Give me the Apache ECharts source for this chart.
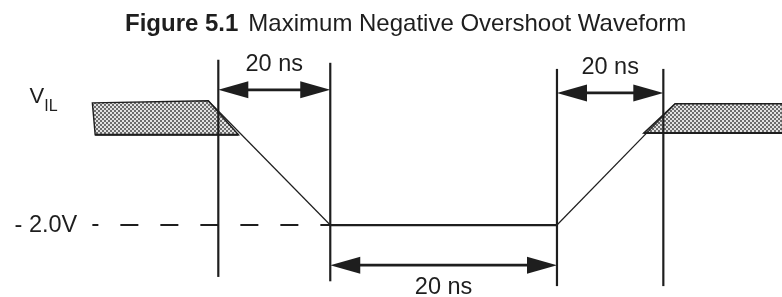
<!DOCTYPE html>
<html>
<head>
<meta charset="utf-8">
<script src="https://cdn.jsdelivr.net/npm/echarts@6/dist/echarts.min.js"></script>
<style>
    html, body { margin: 0; padding: 0; background: #fff; }
    #chart { width: 782px; height: 297px; }
</style>
</head>
<body>
<div id="chart"></div>
<script>
// schematic time (ns) and level (V) of the drawing
var markTimes = [0, 20, 60.5, 79.5];
var markTops = [1.79, 1.72, 1.58, 1.58];
var markBottoms = [-3.19, -3.29, -3.40, -3.40];

var fallT = [-1.8, 20];
var fallV = [0.85, -2.0];
var floorT = [20, 60.5];
var floorV = [-2.0, -2.0];
var riseT = [60.5, 81.6];
var riseV = [-2.0, 0.78];

var leftBandT = [-22.5, -1.8, 3.6, -22.0];
var leftBandV = [0.80, 0.85, 0.07, 0.07];
var rightBandT = [81.6, 100.8, 100.8, 76.0];
var rightBandV = [0.78, 0.78, 0.11, 0.11];

var dashT = [-22.5, 20];
var dashV = [-2.0, -2.0];

var spanStart = [0, 60.5, 20];
var spanEnd = [20, 79.5, 60.5];
var spanLevel = [1.10, 1.03, -2.92];
var spanLabels = ['20 ns', '20 ns', '20 ns'];

var levelNames = ['V', '- 2.0V'];
var levelSub = ['IL', ''];
var levelT = [-31.1, -25.2];
var levelV = [0.69, -2.0];

var INK = '#1e1e1e';
var FONT = '"Liberation Sans", Arial, sans-serif';

function pairs(xs, ys) {
    var out = [];
    for (var i = 0; i < xs.length; i++) {
        out.push([xs[i], ys[i]]);
    }
    return out;
}

function makeHatch() {
    var c = document.createElement('canvas');
    c.width = 4;
    c.height = 4;
    var ctx = c.getContext('2d');
    ctx.fillStyle = '#e2e2e2';
    ctx.fillRect(0, 0, 4, 4);
    ctx.fillStyle = '#6c6c6c';
    ctx.fillRect(0, 0, 2, 2);
    ctx.fillRect(2, 2, 2, 2);
    return c;
}
var hatch = makeHatch();

function renderBand(params, api) {
    var ts = params.dataIndex === 0 ? leftBandT : rightBandT;
    var vs = params.dataIndex === 0 ? leftBandV : rightBandV;
    var pts = [];
    for (var i = 0; i < ts.length; i++) {
        pts.push(api.coord([ts[i], vs[i]]));
    }
    return {
        type: 'group',
        children: [{
            type: 'polygon',
            shape: {points: pts},
            style: {fill: {image: hatch, repeat: 'repeat'}, stroke: INK, lineWidth: 1.4}
        }, {
            type: 'line',
            shape: {x1: pts[2][0], y1: pts[2][1], x2: pts[3][0], y2: pts[3][1]},
            style: {stroke: INK, lineWidth: 2.2}
        }]
    };
}

function renderMark(params, api) {
    var i = params.dataIndex;
    var a = api.coord([markTimes[i], markTops[i]]);
    var b = api.coord([markTimes[i], markBottoms[i]]);
    return {
        type: 'line',
        shape: {x1: a[0], y1: a[1], x2: b[0], y2: b[1]},
        style: {stroke: INK, lineWidth: 2.2}
    };
}

function renderSpan(params, api) {
    var i = params.dataIndex;
    var a = api.coord([spanStart[i], spanLevel[i]]);
    var b = api.coord([spanEnd[i], spanLevel[i]]);
    var len = 30, half = 8.5;
    var above = spanLevel[i] > 0;
    return {
        type: 'group',
        children: [{
            type: 'line',
            shape: {x1: a[0] + len - 2, y1: a[1], x2: b[0] - len + 2, y2: b[1]},
            style: {stroke: INK, lineWidth: 2.6}
        }, {
            type: 'polygon',
            shape: {points: [[a[0], a[1]], [a[0] + len, a[1] - half], [a[0] + len, a[1] + half]]},
            style: {fill: INK}
        }, {
            type: 'polygon',
            shape: {points: [[b[0], b[1]], [b[0] - len, b[1] - half], [b[0] - len, b[1] + half]]},
            style: {fill: INK}
        }, {
            type: 'text',
            x: (a[0] + b[0]) / 2,
            y: above ? a[1] - 25 : a[1] + 22,
            style: {
                text: spanLabels[i], fill: INK, font: '23.5px ' + FONT,
                align: 'center', verticalAlign: 'middle'
            }
        }]
    };
}

function renderLevel(params, api) {
    var i = params.dataIndex;
    var p = api.coord([levelT[i], levelV[i]]);
    if (levelSub[i]) {
        return {
            type: 'group',
            children: [{
                type: 'text',
                x: p[0],
                y: p[1],
                style: {
                    text: levelNames[i], fill: INK, font: '22px ' + FONT,
                    align: 'right', verticalAlign: 'bottom'
                }
            }, {
                type: 'text',
                x: p[0],
                y: p[1] + 7,
                style: {
                    text: levelSub[i], fill: INK, font: '16px ' + FONT,
                    align: 'left', verticalAlign: 'bottom'
                }
            }]
        };
    }
    return {
        type: 'text',
        x: p[0],
        y: p[1],
        style: {
            text: levelNames[i], fill: INK, font: '23.5px ' + FONT,
            align: 'right', verticalAlign: 'middle'
        }
    };
}

var chart = echarts.init(document.getElementById('chart'));
chart.setOption({
    animation: false,
    backgroundColor: '#fff',
    title: {
        left: 120,
        top: 7,
        text: '{b|Figure 5.1}  {n|Maximum Negative Overshoot Waveform}',
        textStyle: {
            rich: {
                b: {fontSize: 24, fontWeight: 'bold', fontFamily: FONT, color: INK},
                n: {fontSize: 24, fontWeight: 'normal', fontFamily: FONT, color: INK}
            }
        }
    },
    grid: {left: 0, right: 0, top: 0, bottom: 0},
    xAxis: {type: 'value', min: -39, max: 100.7, show: false},
    yAxis: {type: 'value', min: -3.65, max: 3.16, show: false},
    series: [{
        type: 'custom',
        name: 'bands',
        renderItem: renderBand,
        data: [[0], [1]],
        z: 2
    }, {
        type: 'line',
        name: 'fall',
        data: pairs(fallT, fallV),
        symbol: 'none',
        lineStyle: {color: INK, width: 1.2},
        z: 3
    }, {
        type: 'line',
        name: 'floor',
        data: pairs(floorT, floorV),
        symbol: 'none',
        lineStyle: {color: INK, width: 2.2},
        z: 3
    }, {
        type: 'line',
        name: 'rise',
        data: pairs(riseT, riseV),
        symbol: 'none',
        lineStyle: {color: INK, width: 1.2},
        z: 3
    }, {
        type: 'line',
        name: 'dash',
        data: pairs(dashT, dashV),
        symbol: 'none',
        lineStyle: {color: INK, width: 2, type: [18, 22], dashOffset: 12},
        z: 3
    }, {
        type: 'custom',
        name: 'marks',
        renderItem: renderMark,
        data: markTimes.map(function (t) { return [t]; }),
        z: 4
    }, {
        type: 'custom',
        name: 'spans',
        renderItem: renderSpan,
        data: spanStart.map(function (t) { return [t]; }),
        z: 5
    }, {
        type: 'custom',
        name: 'levels',
        renderItem: renderLevel,
        data: levelT.map(function (t) { return [t]; }),
        z: 5
    }]
});
</script>
</body>
</html>
